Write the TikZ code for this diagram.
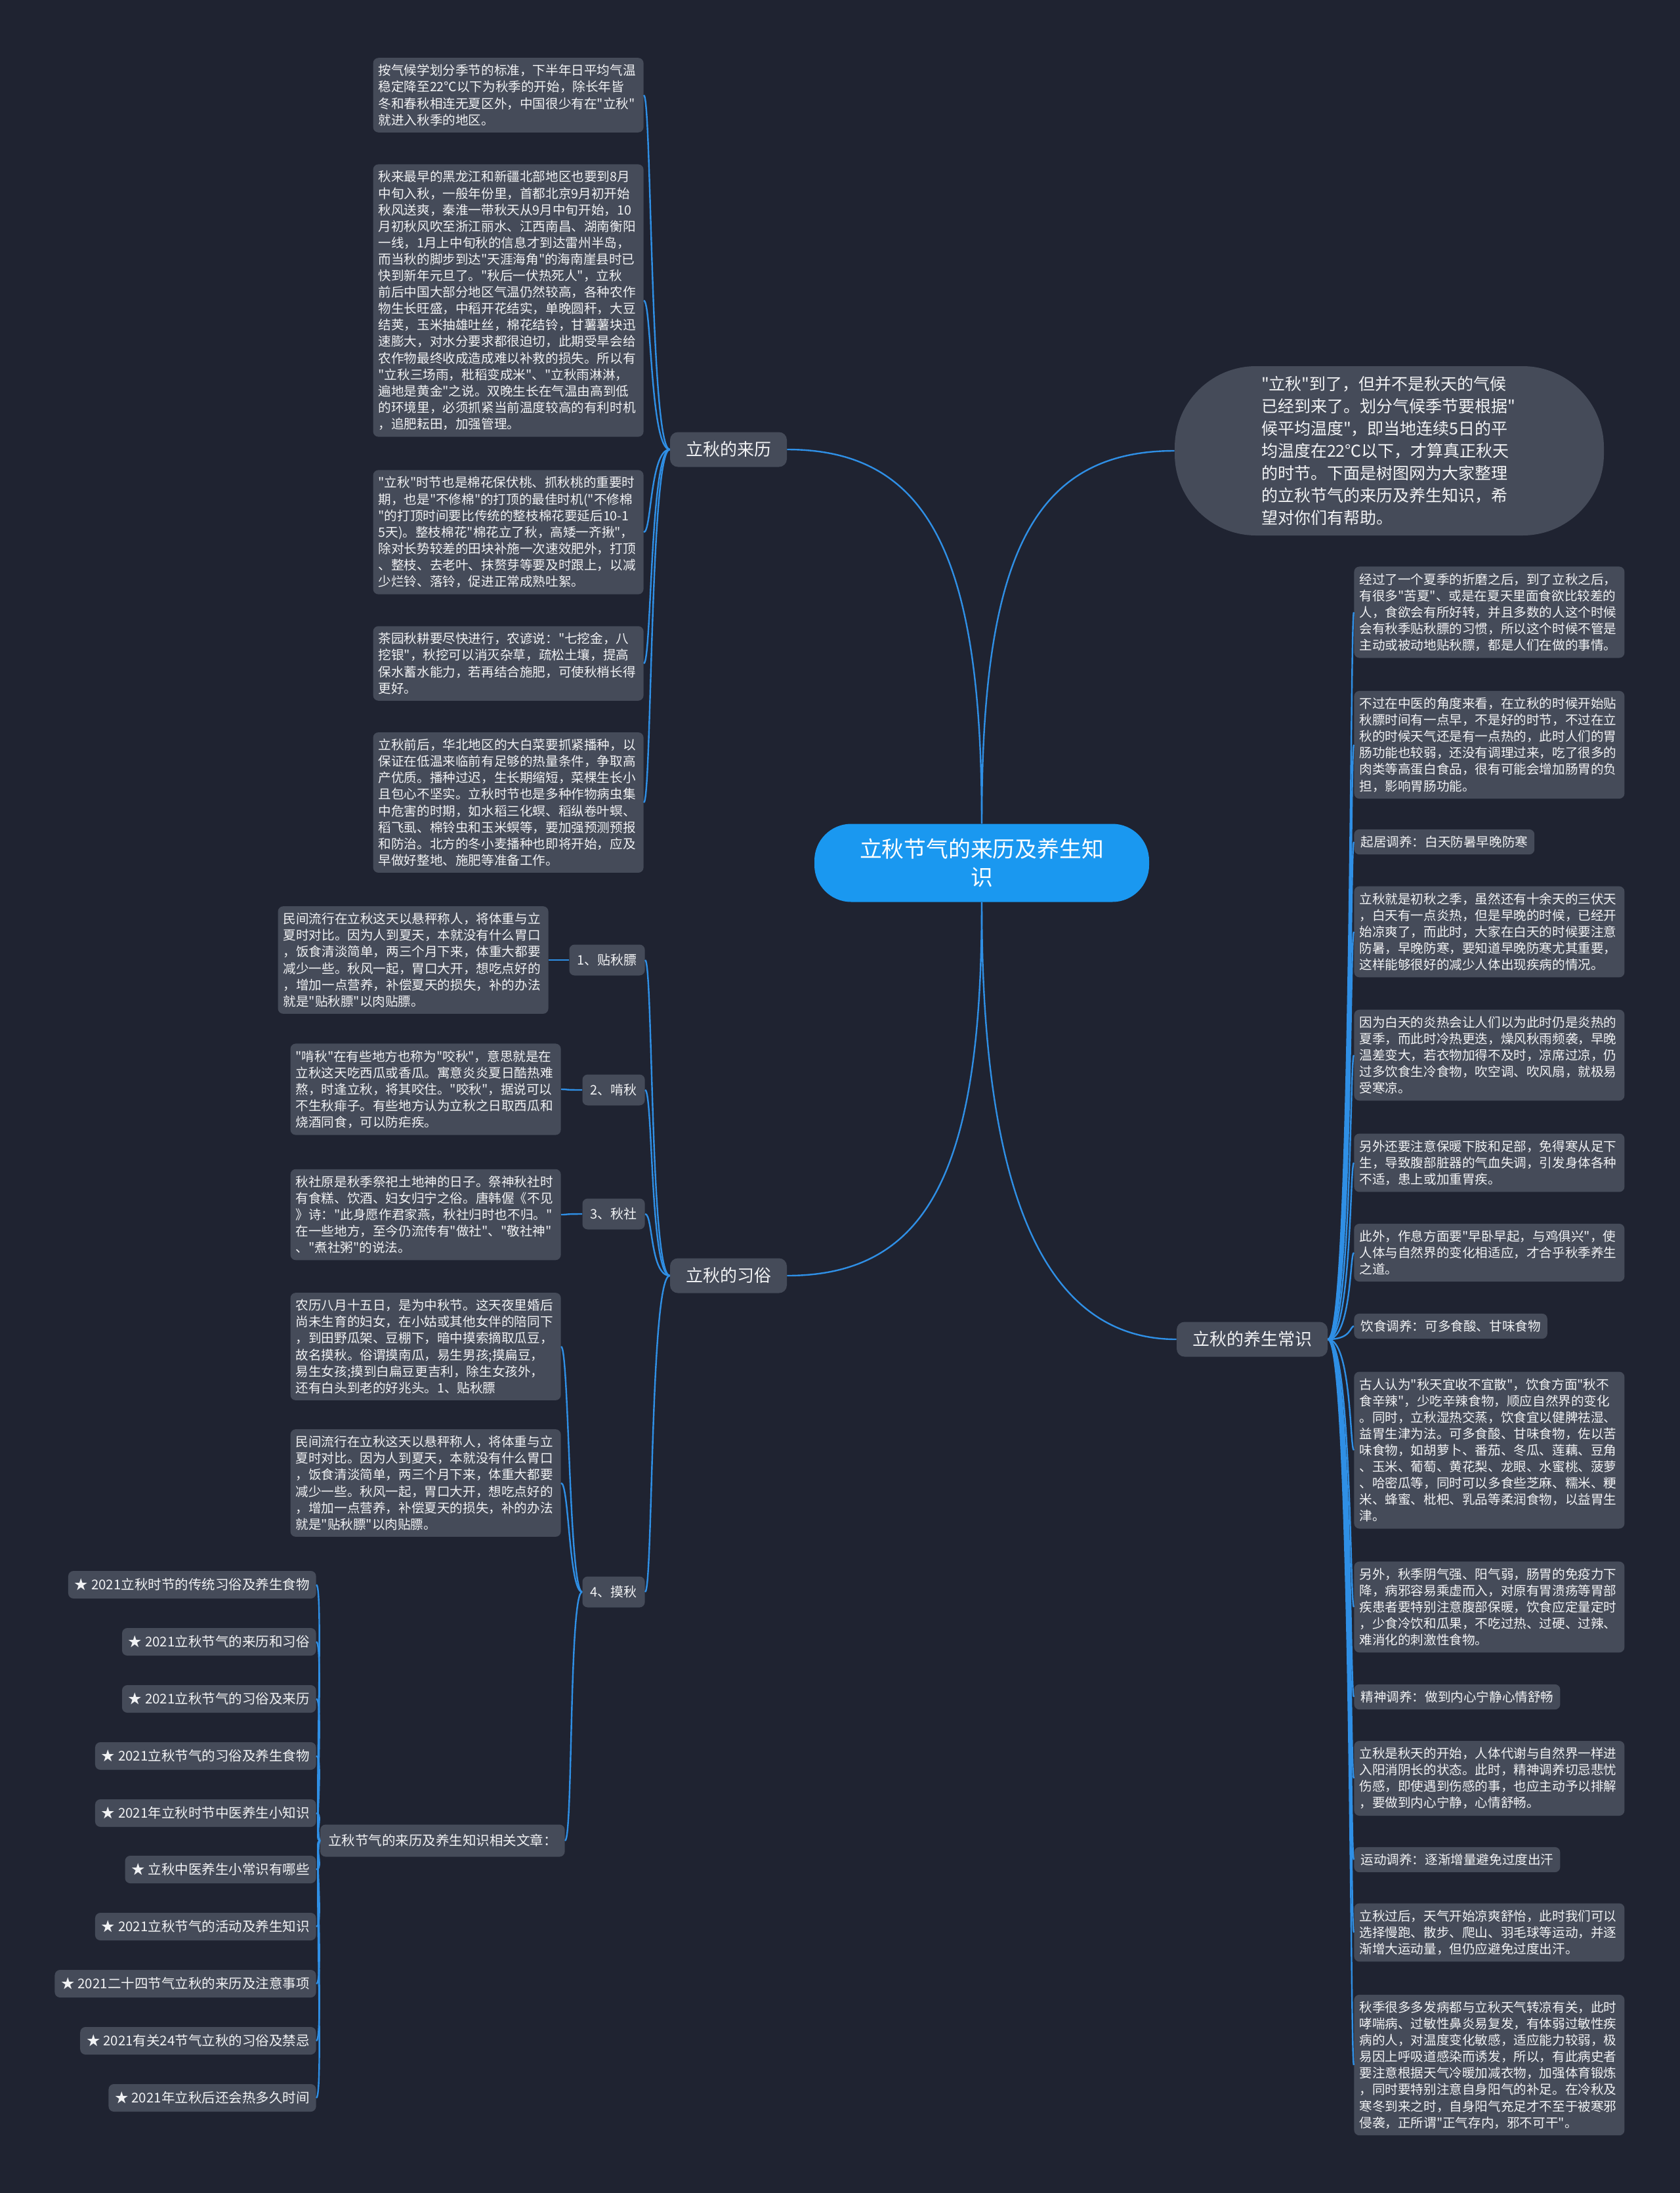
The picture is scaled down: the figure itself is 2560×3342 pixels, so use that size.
\documentclass[tikz,border=0pt]{standalone}
\usepackage{fontspec}
\setmainfont{Noto Sans CJK SC}[Ligatures=TeXOff]
\usepackage{tikz}
\definecolor{night}{HTML}{1F2331}
\definecolor{slate}{HTML}{454B59}
\definecolor{paper}{HTML}{F1F2F4}
\definecolor{wire}{HTML}{2F8FE5}
\definecolor{hubfill}{HTML}{1A98F0}

\begin{document}
\begin{tikzpicture}[
    x=0.5pt,y=-0.5pt,
    card/.style={fill=slate,text=paper,rounded corners=4pt,inner xsep=5pt,inner ysep=5pt,
      font=\fontsize{9.8pt}{12.55pt}\selectfont},
    para/.style={card,text width=198pt,inner xsep=4pt,align=left},
    topic/.style={card,rounded corners=6pt,inner xsep=12pt,minimum height=26.5pt,
      font=\fontsize{13pt}{15pt}\selectfont},
    tag/.style={card,inner xsep=6pt,minimum height=23.5pt,font=\fontsize{10pt}{12pt}\selectfont},
    art/.style={card,inner xsep=5pt,minimum height=21pt,font=\fontsize{10.25pt}{12pt}\selectfont},
    link/.style={draw=wire,line width=1.2pt},
    lbranch/.style={link,to path={.. controls ([xshift=-#1]\tikztostart) and ([xshift=6pt]\tikztotarget) .. (\tikztotarget)}},
    lbranch/.default=15pt,
    rbranch/.style={link,to path={.. controls ([xshift=18pt]\tikztostart) and ([xshift=-3pt]\tikztotarget) .. (\tikztotarget)}}
  ]
  \fill[night] (0,0) rectangle (2560,3342);

  % hub and first level
  \node[fill=hubfill,text=white,rounded corners=28pt,minimum width=255pt,minimum height=59.5pt,
    text width=190pt,align=center,font=\fontsize{16.9pt}{21.7pt}\selectfont] (hub) at (1496,1315)
    {立秋节气的来历及养生知\\识};
  \node[card,rounded corners=62pt,minimum width=327pt,minimum height=129pt,text width=195pt,
    align=left,font=\fontsize{12.5pt}{17pt}\selectfont] (intro) at (2117,687)
    {"立秋"到了，但并不是秋天的气候\\
     已经到来了。划分气候季节要根据"\\
     候平均温度"，即当地连续5日的平\\
     均温度在22℃以下，才算真正秋天\\
     的时节。下面是树图网为大家整理\\
     的立秋节气的来历及养生知识，希\\
     望对你们有帮助。};
  \node[topic] (orig) at (1110,685) {立秋的来历};
  \node[topic] (cust) at (1110,1944) {立秋的习俗};
  \node[topic] (care) at (1908,2041) {立秋的养生常识};

  % origin
  \node[para,anchor=east] (orig1) at (981,145)
    {按气候学划分季节的标准，下半年日平均气温\\
     稳定降至22℃以下为秋季的开始，除长年皆\\
     冬和春秋相连无夏区外，中国很少有在"立秋"\\
     就进入秋季的地区。};
  \node[para,anchor=east] (orig2) at (981,458)
    {秋来最早的黑龙江和新疆北部地区也要到8月\\
     中旬入秋，一般年份里，首都北京9月初开始\\
     秋风送爽，秦淮一带秋天从9月中旬开始，10\\
     月初秋风吹至浙江丽水、江西南昌、湖南衡阳\\
     一线，1月上中旬秋的信息才到达雷州半岛，\\
     而当秋的脚步到达"天涯海角"的海南崖县时已\\
     快到新年元旦了。"秋后一伏热死人"，立秋\\
     前后中国大部分地区气温仍然较高，各种农作\\
     物生长旺盛，中稻开花结实，单晚圆秆，大豆\\
     结荚，玉米抽雄吐丝，棉花结铃，甘薯薯块迅\\
     速膨大，对水分要求都很迫切，此期受旱会给\\
     农作物最终收成造成难以补救的损失。所以有\\
     "立秋三场雨，秕稻变成米"、"立秋雨淋淋，\\
     遍地是黄金"之说。双晚生长在气温由高到低\\
     的环境里，必须抓紧当前温度较高的有利时机\\
     ，追肥耘田，加强管理。};
  \node[para,anchor=east] (orig3) at (981,811)
    {"立秋"时节也是棉花保伏桃、抓秋桃的重要时\\
     期，也是"不修棉"的打顶的最佳时机("不修棉\\
     "的打顶时间要比传统的整枝棉花要延后10-1\\
     5天)。整枝棉花"棉花立了秋，高矮一齐揪"，\\
     除对长势较差的田块补施一次速效肥外，打顶\\
     、整枝、去老叶、抹赘芽等要及时跟上，以减\\
     少烂铃、落铃，促进正常成熟吐絮。};
  \node[para,anchor=east] (orig4) at (981,1011)
    {茶园秋耕要尽快进行，农谚说："七挖金，八\\
     挖银"，秋挖可以消灭杂草，疏松土壤，提高\\
     保水蓄水能力，若再结合施肥，可使秋梢长得\\
     更好。};
  \node[para,anchor=east] (orig5) at (981,1223)
    {立秋前后，华北地区的大白菜要抓紧播种，以\\
     保证在低温来临前有足够的热量条件，争取高\\
     产优质。播种过迟，生长期缩短，菜棵生长小\\
     且包心不坚实。立秋时节也是多种作物病虫集\\
     中危害的时期，如水稻三化螟、稻纵卷叶螟、\\
     稻飞虱、棉铃虫和玉米螟等，要加强预测预报\\
     和防治。北方的冬小麦播种也即将开始，应及\\
     早做好整地、施肥等准备工作。};

  % customs
  \node[tag,anchor=east] (tie) at (983,1463) {1、贴秋膘};
  \node[tag,anchor=east] (ken) at (983,1661) {2、啃秋};
  \node[tag,anchor=east] (she) at (983,1850) {3、秋社};
  \node[tag,anchor=east] (mo) at (983,2426) {4、摸秋};
  \node[para,anchor=east] (tieT) at (836,1463)
    {民间流行在立秋这天以悬秤称人，将体重与立\\
     夏时对比。因为人到夏天，本就没有什么胃口\\
     ，饭食清淡简单，两三个月下来，体重大都要\\
     减少一些。秋风一起，胃口大开，想吃点好的\\
     ，增加一点营养，补偿夏天的损失，补的办法\\
     就是"贴秋膘"以肉贴膘。};
  \node[para,anchor=east] (kenT) at (855,1660)
    {"啃秋"在有些地方也称为"咬秋"，意思就是在\\
     立秋这天吃西瓜或香瓜。寓意炎炎夏日酷热难\\
     熬，时逢立秋，将其咬住。"咬秋"，据说可以\\
     不生秋痱子。有些地方认为立秋之日取西瓜和\\
     烧酒同食，可以防疟疾。};
  \node[para,anchor=east] (sheT) at (855,1851)
    {秋社原是秋季祭祀土地神的日子。祭神秋社时\\
     有食糕、饮酒、妇女归宁之俗。唐韩偓《不见\\
     》诗："此身愿作君家燕，秋社归时也不归。"\\
     在一些地方，至今仍流传有"做社"、"敬社神"\\
     、"煮社粥"的说法。};
  \node[para,anchor=east] (moA) at (855,2052)
    {农历八月十五日，是为中秋节。这天夜里婚后\\
     尚未生育的妇女，在小姑或其他女伴的陪同下\\
     ，到田野瓜架、豆棚下，暗中摸索摘取瓜豆，\\
     故名摸秋。俗谓摸南瓜，易生男孩;摸扁豆，\\
     易生女孩;摸到白扁豆更吉利，除生女孩外，\\
     还有白头到老的好兆头。1、贴秋膘};
  \node[para,anchor=east] (moB) at (855,2260)
    {民间流行在立秋这天以悬秤称人，将体重与立\\
     夏时对比。因为人到夏天，本就没有什么胃口\\
     ，饭食清淡简单，两三个月下来，体重大都要\\
     减少一些。秋风一起，胃口大开，想吃点好的\\
     ，增加一点营养，补偿夏天的损失，补的办法\\
     就是"贴秋膘"以肉贴膘。};
  \node[art,anchor=east,inner xsep=6pt,minimum height=24.5pt] (art) at (861,2805)
    {立秋节气的来历及养生知识相关文章：};
  \node[art,anchor=east] (art1) at (482,2415) {★ 2021立秋时节的传统习俗及养生食物};
  \node[art,anchor=east] (art2) at (482,2502) {★ 2021立秋节气的来历和习俗};
  \node[art,anchor=east] (art3) at (482,2589) {★ 2021立秋节气的习俗及来历};
  \node[art,anchor=east] (art4) at (482,2676) {★ 2021立秋节气的习俗及养生食物};
  \node[art,anchor=east] (art5) at (482,2763) {★ 2021年立秋时节中医养生小知识};
  \node[art,anchor=east] (art6) at (482,2849) {★ 立秋中医养生小常识有哪些};
  \node[art,anchor=east] (art7) at (482,2936) {★ 2021立秋节气的活动及养生知识};
  \node[art,anchor=east] (art8) at (482,3023) {★ 2021二十四节气立秋的来历及注意事项};
  \node[art,anchor=east] (art9) at (482,3110) {★ 2021有关24节气立秋的习俗及禁忌};
  \node[art,anchor=east] (art10) at (482,3197) {★ 2021年立秋后还会热多久时间};

  % health care
  \node[para,anchor=west] (care1) at (2063,933)
    {经过了一个夏季的折磨之后，到了立秋之后，\\
     有很多"苦夏"、或是在夏天里面食欲比较差的\\
     人，食欲会有所好转，并且多数的人这个时候\\
     会有秋季贴秋膘的习惯，所以这个时候不管是\\
     主动或被动地贴秋膘，都是人们在做的事情。};
  \node[para,anchor=west] (care2) at (2063,1135)
    {不过在中医的角度来看，在立秋的时候开始贴\\
     秋膘时间有一点早，不是好的时节，不过在立\\
     秋的时候天气还是有一点热的，此时人们的胃\\
     肠功能也较弱，还没有调理过来，吃了很多的\\
     肉类等高蛋白食品，很有可能会增加肠胃的负\\
     担，影响胃肠功能。};
  \node[card,anchor=west] (care3) at (2063,1283) {起居调养：白天防暑早晚防寒};
  \node[para,anchor=west] (care4) at (2063,1420)
    {立秋就是初秋之季，虽然还有十余天的三伏天\\
     ，白天有一点炎热，但是早晚的时候，已经开\\
     始凉爽了，而此时，大家在白天的时候要注意\\
     防暑，早晚防寒，要知道早晚防寒尤其重要，\\
     这样能够很好的减少人体出现疾病的情况。};
  \node[para,anchor=west] (care5) at (2063,1608)
    {因为白天的炎热会让人们以为此时仍是炎热的\\
     夏季，而此时冷热更迭，燥风秋雨频袭，早晚\\
     温差变大，若衣物加得不及时，凉席过凉，仍\\
     过多饮食生冷食物，吹空调、吹风扇，就极易\\
     受寒凉。};
  \node[para,anchor=west] (care6) at (2063,1772)
    {另外还要注意保暖下肢和足部，免得寒从足下\\
     生，导致腹部脏器的气血失调，引发身体各种\\
     不适，患上或加重胃疾。};
  \node[para,anchor=west] (care7) at (2063,1909)
    {此外，作息方面要"早卧早起，与鸡俱兴"，使\\
     人体与自然界的变化相适应，才合乎秋季养生\\
     之道。};
  \node[card,anchor=west] (care8) at (2063,2021) {饮食调养：可多食酸、甘味食物};
  \node[para,anchor=west] (care9) at (2063,2210)
    {古人认为"秋天宜收不宜散"，饮食方面"秋不\\
     食辛辣"，少吃辛辣食物，顺应自然界的变化\\
     。同时，立秋湿热交蒸，饮食宜以健脾祛湿、\\
     益胃生津为法。可多食酸、甘味食物，佐以苦\\
     味食物，如胡萝卜、番茄、冬瓜、莲藕、豆角\\
     、玉米、葡萄、黄花梨、龙眼、水蜜桃、菠萝\\
     、哈密瓜等，同时可以多食些芝麻、糯米、粳\\
     米、蜂蜜、枇杷、乳品等柔润食物，以益胃生\\
     津。};
  \node[para,anchor=west] (care10) at (2063,2449)
    {另外，秋季阴气强、阳气弱，肠胃的免疫力下\\
     降，病邪容易乘虚而入，对原有胃溃疡等胃部\\
     疾患者要特别注意腹部保暖，饮食应定量定时\\
     ，少食冷饮和瓜果，不吃过热、过硬、过辣、\\
     难消化的刺激性食物。};
  \node[card,anchor=west] (care11) at (2063,2586) {精神调养：做到内心宁静心情舒畅};
  \node[para,anchor=west] (care12) at (2063,2710)
    {立秋是秋天的开始，人体代谢与自然界一样进\\
     入阳消阴长的状态。此时，精神调养切忌悲忧\\
     伤感，即使遇到伤感的事，也应主动予以排解\\
     ，要做到内心宁静，心情舒畅。};
  \node[card,anchor=west] (care13) at (2063,2834) {运动调养：逐渐增量避免过度出汗};
  \node[para,anchor=west] (care14) at (2063,2945)
    {立秋过后，天气开始凉爽舒怡，此时我们可以\\
     选择慢跑、散步、爬山、羽毛球等运动，并逐\\
     渐增大运动量，但仍应避免过度出汗。};
  \node[para,anchor=west] (care15) at (2063,3147)
    {秋季很多多发病都与立秋天气转凉有关，此时\\
     哮喘病、过敏性鼻炎易复发，有体弱过敏性疾\\
     病的人，对温度变化敏感，适应能力较弱，极\\
     易因上呼吸道感染而诱发，所以，有此病史者\\
     要注意根据天气冷暖加减衣物，加强体育锻炼\\
     ，同时要特别注意自身阳气的补足。在冷秋及\\
     寒冬到来之时，自身阳气充足才不至于被寒邪\\
     侵袭，正所谓"正气存内，邪不可干"。};

  % connectors
  \draw[link] (hub.north) .. controls ([yshift=200pt]hub.north) and ([xshift=110pt]orig.east) .. (orig.east);
  \draw[link] (hub.north) .. controls ([yshift=200pt]hub.north) and ([xshift=-110pt]intro.west) .. (intro.west);
  \draw[link] (hub.south) .. controls ([yshift=-200pt]hub.south) and ([xshift=110pt]cust.east) .. (cust.east);
  \draw[link] (hub.south) .. controls ([yshift=-200pt]hub.south) and ([xshift=-110pt]care.west) .. (care.west);
  \path (orig.west) edge[lbranch] (orig1.east) edge[lbranch] (orig2.east) edge[lbranch] (orig3.east)
    edge[lbranch] (orig4.east) edge[lbranch] (orig5.east);
  \path (cust.west) edge[lbranch] (tie.east) edge[lbranch] (ken.east) edge[lbranch] (she.east)
    edge[lbranch] (mo.east);
  \path (tie.west) edge[lbranch] (tieT.east);
  \path (ken.west) edge[lbranch] (kenT.east);
  \path (she.west) edge[lbranch] (sheT.east);
  \path (mo.west) edge[lbranch=10pt] (moA.east) edge[lbranch=10pt] (moB.east) edge[lbranch=10pt] (art.east);
  \path (art.west) edge[lbranch=5pt] (art1.east) edge[lbranch=5pt] (art2.east) edge[lbranch=5pt] (art3.east)
    edge[lbranch=5pt] (art4.east) edge[lbranch=5pt] (art5.east) edge[lbranch=5pt] (art6.east)
    edge[lbranch=5pt] (art7.east) edge[lbranch=5pt] (art8.east) edge[lbranch=5pt] (art9.east)
    edge[lbranch=5pt] (art10.east);
  \path (care.east) edge[rbranch] (care1.west) edge[rbranch] (care2.west) edge[rbranch] (care3.west)
    edge[rbranch] (care4.west) edge[rbranch] (care5.west) edge[rbranch] (care6.west)
    edge[rbranch] (care7.west) edge[rbranch] (care8.west) edge[rbranch] (care9.west)
    edge[rbranch] (care10.west) edge[rbranch] (care11.west) edge[rbranch] (care12.west)
    edge[rbranch] (care13.west) edge[rbranch] (care14.west) edge[rbranch] (care15.west);
\end{tikzpicture}
\end{document}
